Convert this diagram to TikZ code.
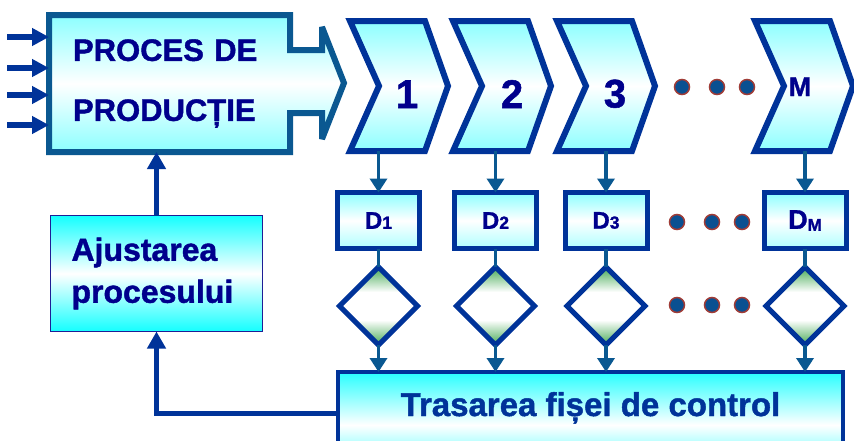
\documentclass[tikz,border=0pt]{standalone}
\usepackage{fontspec}
\setmainfont{Liberation Sans}[BoldFeatures={FakeBold=1.3}]
\usetikzlibrary{arrows.meta,shapes.geometric}
\definecolor{navy}{RGB}{0,0,140}
\definecolor{dblue}{RGB}{0,51,153}
\definecolor{teal1}{RGB}{10,88,145}
\definecolor{cyanl}{RGB}{140,255,255}
\definecolor{cyans}{RGB}{20,255,255}
\definecolor{cyant}{RGB}{40,255,255}
\definecolor{dgreen}{RGB}{70,170,85}
\definecolor{dotfill}{RGB}{10,80,145}
\definecolor{dotring}{RGB}{160,60,55}
\definecolor{ajborder}{RGB}{30,30,150}
\pgfdeclareverticalshading{diashade}{100bp}{color(0bp)=(dgreen); color(25bp)=(dgreen); color(41bp)=(white); color(59bp)=(white); color(75bp)=(dgreen); color(100bp)=(dgreen)}
\newcommand\mychev[1]{\draw[chev] (#1+5,21) -- (#1+80,21) -- (#1+103,86) -- (#1+80,151) -- (#1+5,151) -- (#1+34,86) -- cycle;}
\newcommand\dlab[1]{{\fontsize{24}{24}\selectfont D}{\fontsize{17.5}{17.5}\selectfont #1}}
\tikzset{
 chev/.style={draw=dblue, line width=6pt, line join=miter, top color=cyanl, bottom color=cyanl, middle color=white},
 procshape/.style={draw=teal1, line width=6pt, line join=miter, miter limit=3, top color=cyanl, bottom color=cyanl, middle color=white},
 dbox/.style={draw=dblue, line width=5pt, minimum width=82pt, minimum height=56pt, inner sep=0pt, outer sep=0pt, top color=cyanl, bottom color=cyanl!70!white, middle color=white, text=navy, font=\bfseries},
 dia/.style={diamond, draw=dblue, line width=5pt, minimum width=78pt, minimum height=78pt, inner sep=0pt, outer sep=0pt, shade, shading=diashade},
 tline/.style={draw=teal1, line width=3.5pt},
 tarrow/.style={tline, -{Triangle[length=14pt,width=17pt]}},
 fbarrow/.style={draw=dblue, line width=5pt, -{Triangle[length=17pt,width=18pt]}},
 inarrow/.style={draw=dblue, line width=6pt, -{Triangle[length=17pt,width=17pt]}},
 dot/.style={fill=dotfill, draw=dotring, line width=1.5pt},
 bigtext/.style={font=\fontsize{31}{60}\selectfont\bfseries, text=navy},
 numtext/.style={font=\fontsize{40}{40}\selectfont\bfseries, text=navy, inner sep=0pt, anchor=base},
 ajbox/.style={draw=ajborder, line width=1.3pt, minimum width=212pt, minimum height=116pt, inner xsep=21pt, inner ysep=0pt, text width=170pt, align=left, top color=cyans, bottom color=cyans, middle color=white, font=\fontsize{32}{42}\selectfont\bfseries, text=navy, outer sep=0pt},
 trasbox/.style={draw=dblue, line width=4pt, minimum width=505pt, minimum height=106pt, top color=cyant, bottom color=cyant, middle color=white, outer sep=0pt},
}
\begin{document}
\begin{tikzpicture}[x=1pt,y=-1pt]
\useasboundingbox (0,0) rectangle (854,440);
\begin{scope}
\clip (0,0) rectangle (854,440);
% process shape
\draw[procshape] (49,15) -- (290,15) -- (290,50) -- (322,50) -- (322,27) -- (344,83) -- (322,139) -- (322,113) -- (290,113) -- (290,152) -- (49,152) -- cycle;
\node[bigtext, minimum width=241pt, minimum height=137pt, inner xsep=24pt, inner ysep=0pt, text width=193pt, align=left, outer sep=0pt] (proc) at (169.5,83.5) {PROCES DE\\PRODUCȚIE};
% inputs
\coordinate (in1) at (7,37);
\coordinate (in2) at (7,68);
\coordinate (in3) at (7,95);
\coordinate (in4) at (7,125);
\foreach \i in {1,2,3,4} {\draw[inarrow] (in\i) -- (in\i -| proc.west);}
% chevrons
\mychev{345}
\mychev{448}
\mychev{552}
\mychev{750}
\node[numtext] (n1) at (407,108) {1};
\node[numtext] (n2) at (512,108) {2};
\node[numtext] (n3) at (615,107.5) {3};
\node[numtext, font=\fontsize{27}{27}\selectfont\bfseries] (nM) at (800,96) {M};
\foreach \x in {682,717,747} {\draw[dot] (\x,87) circle[radius=7.5pt];}
% D boxes
\node[dbox] (d1) at (378.5,220.5) {\dlab{1}};
\node[dbox] (d2) at (495.5,220.5) {\dlab{2}};
\node[dbox] (d3) at (606,220.5) {\dlab{3}};
\node[dbox] (dM) at (805,220.5) {{\fontsize{27}{27}\selectfont D}{\fontsize{17}{17}\selectfont\raisebox{-2pt}{M}}};
\foreach \x in {677,712,742} {\draw[dot] (\x,222) circle[radius=7.5pt];}
% chevron to D
\coordinate (c1s) at (378.5,151);
\coordinate (c2s) at (495.5,151);
\coordinate (c3s) at (606,151);
\coordinate (cMs) at (805,151);
\draw[tarrow] (c1s) -- (d1.north);
\draw[tarrow] (c2s) -- (d2.north);
\draw[tarrow] (c3s) -- (d3.north);
\draw[tarrow] (cMs) -- (dM.north);
% diamonds
\node[dia] (g1) at (378.5,306) {};
\node[dia] (g2) at (495.5,306) {};
\node[dia] (g3) at (606,306) {};
\node[dia] (gM) at (805,306) {};
\foreach \x in {677,712,742} {\draw[dot] (\x,305) circle[radius=7.5pt];}
\draw[tline] (d1) -- (g1);
\draw[tline] (d2) -- (g2);
\draw[tline] (d3) -- (g3);
\draw[tline] (dM) -- (gM);
% control chart box
\node[trasbox] (tras) at (590.5,425) {};
\node[font=\fontsize{33}{33}\selectfont\bfseries, text=dblue, anchor=base, inner sep=0pt] (trastext) at (590.5,416) {Trasarea fișei de control};
\draw[tarrow] (g1.south) -- (g1.south |- tras.north);
\draw[tarrow] (g2.south) -- (g2.south |- tras.north);
\draw[tarrow] (g3.south) -- (g3.south |- tras.north);
\draw[tarrow] (gM.south) -- (gM.south |- tras.north);
% adjustment
\node[ajbox] (aj) at (156.5,273.5) {Ajustarea\\procesului};
\draw[fbarrow] (aj.north) -- (aj.north |- proc.south);
\draw[fbarrow] ([yshift=12pt]tras.west) -| (aj.south);
\end{scope}
\end{tikzpicture}
\end{document}
